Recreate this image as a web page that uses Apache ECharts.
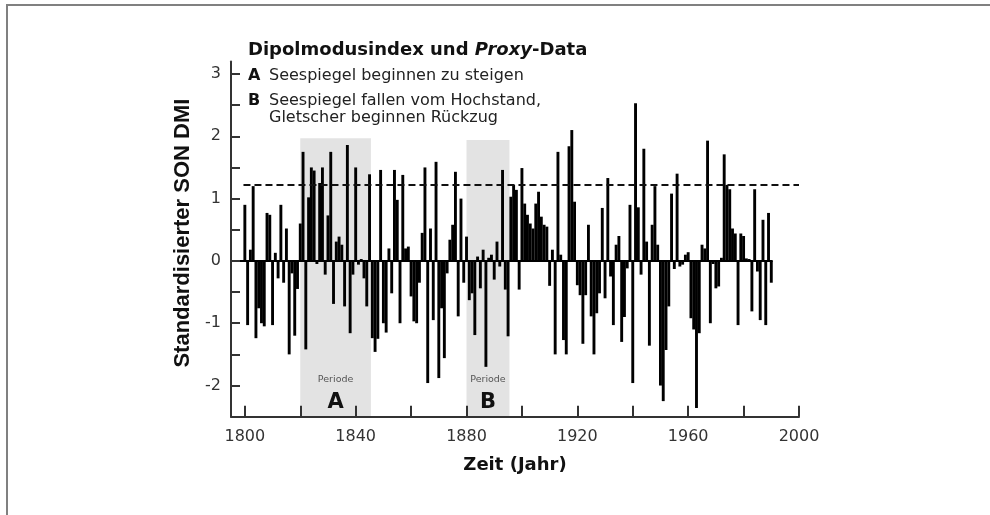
<!DOCTYPE html>
<html>
<head>
<meta charset="utf-8">
<script src="https://cdn.jsdelivr.net/npm/echarts@6/dist/echarts.min.js"></script>
<style>
  html, body { margin: 0; padding: 0; background: #fff; }
  #chart { width: 990px; height: 515px; }
</style>
</head>
<body>
<div id="chart"></div>
<script>
// Standardisierter SON DMI, ein Wert pro Jahr ab 1800
var startYear = 1800;
var dmi1800 = [0.90, -1.03, 0.18, 1.20, -1.24, -0.76, -1.00, -1.05, 0.77, 0.74,
               -1.03, 0.13, -0.28, 0.90, -0.35, 0.52, -1.50, -0.20, -1.20, -0.45,
               0.60, 1.75, -1.42, 1.02, 1.50, 1.45, -0.05, 1.25, 1.50, -0.22,
               0.73, 1.75, -0.69, 0.31, 0.39, 0.26, -0.73, 1.86, -1.16, -0.22,
               1.50, -0.06, 0.03, -0.28, -0.73, 1.39, -1.24, -1.46, -1.25, 1.46];
var dmi1850 = [-1.00, -1.15, 0.20, -0.52, 1.46, 0.98, -1.00, 1.38, 0.20, 0.23,
               -0.57, -0.97, -1.00, -0.35, 0.45, 1.50, -1.96, 0.52, -0.95, 1.59,
               -1.88, -0.76, -1.56, -0.20, 0.34, 0.58, 1.43, -0.89, 1.00, -0.35,
               0.39, -0.63, -0.52, -1.19, 0.07, -0.44, 0.18, -1.70, 0.05, 0.10,
               -0.30, 0.31, -0.09, 1.46, -0.46, -1.21, 1.03, 1.22, 1.14, -0.46];
var dmi1900 = [1.49, 0.92, 0.74, 0.60, 0.52, 0.92, 1.11, 0.71, 0.58, 0.55,
               -0.40, 0.18, -1.50, 1.75, 0.10, -1.27, -1.50, 1.84, 2.10, 0.95,
               -0.39, -0.55, -1.33, -0.55, 0.58, -0.89, -1.50, -0.84, -0.52, 0.85,
               -0.60, 1.33, -0.25, -1.03, 0.26, 0.40, -1.30, -0.90, -0.12, 0.90,
               -1.96, 2.53, 0.86, -0.22, 1.80, 0.31, -1.36, 0.58, 1.20, 0.26];
var dmi1950 = [-2.00, -2.25, -1.43, -0.73, 1.08, -0.13, 1.40, -0.09, -0.06, 0.10,
               0.14, -0.92, -1.10, -2.36, -1.16, 0.26, 0.20, 1.93, -1.00, -0.05,
               -0.44, -0.41, 0.05, 1.71, 1.22, 1.15, 0.52, 0.44, -1.03, 0.44,
               0.40, 0.04, 0.03, -0.81, 1.15, -0.17, -0.95, 0.66, -1.03, 0.77,
               -0.35];

var thresholdLevel = 1.23;
var periods = [
    { name: 'A', from: 1820, to: 1845.5, top: 1.97 },
    { name: 'B', from: 1880, to: 1895.5, top: 1.94 }
];
var xTickYears = [1800, 1820, 1840, 1860, 1880, 1900, 1920, 1940, 1960, 1980, 2000];
var xLabelYears = [1800, 1840, 1880, 1920, 1960, 2000];
var yTickValues = [-2, -1.5, -1, -0.5, 0, 0.5, 1, 1.5, 2, 2.5, 3];
var yLabelValues = [-2, -1, 0, 1, 2, 3];
var xMin = 1795, xMax = 2000, yMin = -2.5, yMax = 3.2;

var dmiValues = dmi1800.concat(dmi1850, dmi1900, dmi1950);
var barData = [];
for (var i = 0; i < dmiValues.length; i++) {
    barData.push([startYear + i, dmiValues[i]]);
}
var lastYear = startYear + dmiValues.length - 1;

var FONT = "'DejaVu Sans', 'Liberation Sans', Arial, sans-serif";
var chart = echarts.init(document.getElementById('chart'));

var option = {
    animation: false,
    backgroundColor: '#ffffff',
    grid: { left: 231, right: 191, top: 61.5, bottom: 98.3 },
    xAxis: {
        type: 'value',
        min: xMin,
        max: xMax,
        z: 5,
        name: 'Zeit (Jahr)',
        nameLocation: 'middle',
        nameGap: 40,
        nameTextStyle: { fontFamily: FONT, fontSize: 18, fontWeight: 'bold', color: '#111' },
        axisLine: { show: true, onZero: false, lineStyle: { color: '#333', width: 2 } },
        axisTick: { show: true, inside: true, length: 11, customValues: xTickYears,
                    lineStyle: { color: '#333', width: 2 } },
        axisLabel: { customValues: xLabelYears, fontFamily: FONT, fontSize: 16, color: '#333', margin: 12,
                     formatter: function (v) { return String(v); } },
        splitLine: { show: false }
    },
    yAxis: {
        type: 'value',
        min: yMin,
        max: yMax,
        z: 5,
        name: 'Standardisierter SON DMI',
        nameLocation: 'middle',
        nameGap: 37,
        nameTextStyle: { fontFamily: "'Liberation Sans', Arial, sans-serif", fontSize: 22,
                         fontWeight: 'bold', color: '#111', padding: [0, 0, 0, 12] },
        axisLine: { show: true, onZero: false, lineStyle: { color: '#333', width: 2 } },
        axisTick: { show: true, inside: true, length: 9, customValues: yTickValues,
                    lineStyle: { color: '#333', width: 2 } },
        axisLabel: { customValues: yLabelValues, fontFamily: FONT, fontSize: 16, color: '#333', margin: 10,
                     formatter: function (v) { return String(v); } },
        splitLine: { show: false }
    },
    series: [
        {
            // Perioden A und B als graue Flächen
            type: 'scatter',
            data: [],
            z: 1,
            silent: true,
            markArea: {
                silent: true,
                itemStyle: { color: '#e3e3e3' },
                label: {
                    show: true,
                    position: 'insideBottom',
                    distance: 2,
                    formatter: function (p) { return '{p|Periode}\n{l|' + p.name + '}'; },
                    rich: {
                        p: { fontFamily: FONT, fontSize: 9.5, color: '#555', lineHeight: 21 },
                        l: { fontFamily: FONT, fontSize: 21, fontWeight: 'bold', color: '#111', lineHeight: 25 }
                    }
                },
                data: periods.map(function (p) {
                    return [{ name: p.name, xAxis: p.from, yAxis: yMin }, { xAxis: p.to, yAxis: p.top }];
                })
            }
        },
        {
            type: 'bar',
            data: barData,
            barWidth: 2.9,
            z: 3,
            itemStyle: { color: '#000' },
            markLine: {
                silent: true,
                symbol: 'none',
                label: { show: false },
                data: [
                    [{ coord: [startYear - 0.5, thresholdLevel], lineStyle: { type: [7, 4], color: '#111', width: 2 } },
                     { coord: [xMax, thresholdLevel] }],
                    [{ coord: [xMin, 0], lineStyle: { type: 'solid', color: '#000', width: 2 } },
                     { coord: [lastYear + 0.5, 0] }]
                ]
            }
        }
    ],
    graphic: [
        {
            type: 'polyline',
            shape: { points: [[7, 515], [7, 5], [990, 5]] },
            style: { stroke: '#808080', lineWidth: 2, fill: null },
            silent: true
        },
        {
            type: 'text', x: 248, y: 50,
            style: {
                text: 'Dipolmodusindex und {i|Proxy}-Data',
                fontFamily: FONT, fontSize: 18, fontWeight: 'bold', fill: '#111',
                verticalAlign: 'middle',
                rich: { i: { fontFamily: FONT, fontSize: 18, fontWeight: 'bold', fontStyle: 'italic', fill: '#111' } }
            }
        },
        { type: 'text', x: 248, y: 76,
          style: { text: 'A', fontFamily: FONT, fontSize: 16, fontWeight: 'bold', fill: '#111', verticalAlign: 'middle' } },
        { type: 'text', x: 269, y: 76,
          style: { text: 'Seespiegel beginnen zu steigen', fontFamily: FONT, fontSize: 16, fill: '#222', verticalAlign: 'middle' } },
        { type: 'text', x: 248, y: 101,
          style: { text: 'B', fontFamily: FONT, fontSize: 16, fontWeight: 'bold', fill: '#111', verticalAlign: 'middle' } },
        { type: 'text', x: 269, y: 101,
          style: { text: 'Seespiegel fallen vom Hochstand,', fontFamily: FONT, fontSize: 16, fill: '#222', verticalAlign: 'middle' } },
        { type: 'text', x: 269, y: 118,
          style: { text: 'Gletscher beginnen Rückzug', fontFamily: FONT, fontSize: 16, fill: '#222', verticalAlign: 'middle' } }
    ]
};
chart.setOption(option);
</script>
</body>
</html>
